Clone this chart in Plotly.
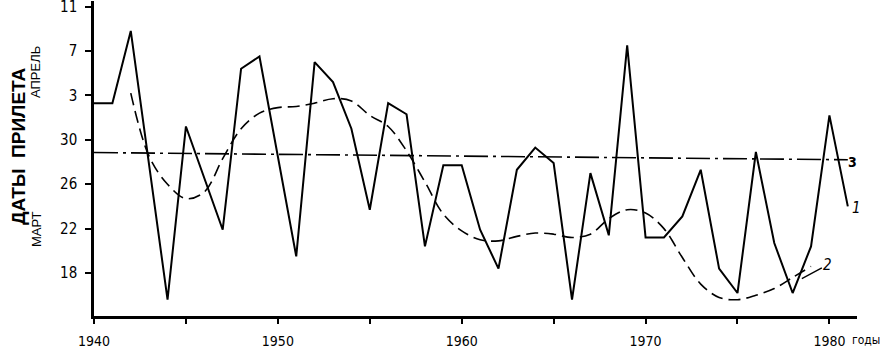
import plotly.graph_objects as go

# Day numbers: March days as-is, April days = 31 + day
years1 = list(range(1940, 1982))
arrival = [33.3, 33.3, 39.8, 27.7, 15.6, 31.2, 26.6, 21.9, 36.4, 37.5,
           28.5, 19.5, 37.0, 35.2, 31.0, 23.7, 33.3, 32.3, 20.4, 27.7,
           27.7, 21.9, 18.4, 27.3, 29.3, 27.9, 15.6, 27.0, 21.4, 38.5,
           21.2, 21.2, 23.1, 27.3, 18.4, 16.2, 28.9, 20.7, 16.2, 20.4,
           32.2, 24.0]

years2 = list(range(1942, 1980))
smooth = [34.2, 28.5, 26.0, 24.7, 25.3, 28.3, 31.0, 32.4, 32.9, 33.0,
          33.3, 33.7, 33.5, 32.2, 31.2, 29.0, 26.2, 23.3, 21.8, 21.0,
          20.9, 21.3, 21.6, 21.5, 21.2, 21.5, 22.9, 23.7, 23.4, 22.0,
          19.4, 17.0, 15.8, 15.6, 16.0, 16.6, 17.6, 18.6]

years3 = [1940, 1981]
trend = [28.85, 28.2]

ytick_vals = [18, 22, 26, 30, 34, 38, 42]
ytick_text = ["18", "22", "26", "30", "3", "7", "11"]
xtick_vals = list(range(1940, 1985, 5))
xtick_text = ["1940", "", "1950", "", "1960", "", "1970", "", "1980"]

W, H = 883, 355
ML, MR, MT, MB = 94, 26, 1, 39
PW, PH = W - ML - MR, H - MT - MB

def px(x):
    return (x - ML) / PW

def py(y):
    return 1 - (y - MT) / PH

NARROW = "Liberation Sans Narrow, DejaVu Sans Condensed, Arial Narrow, sans-serif"

fig = go.Figure()
fig.add_trace(go.Scatter(x=years1, y=arrival, mode="lines",
                         line=dict(color="black", width=2), hoverinfo="skip"))
fig.add_trace(go.Scatter(x=years2, y=smooth, mode="lines",
                         line=dict(color="black", width=1.6, dash="12px,6px", shape="spline", smoothing=1.0),
                         hoverinfo="skip"))
fig.add_trace(go.Scatter(x=years3, y=trend, mode="lines",
                         line=dict(color="black", width=1.6, dash="24px,5px,3px,5px"),
                         hoverinfo="skip"))

fig.update_layout(
    width=W, height=H, showlegend=False,
    margin=dict(l=ML, r=MR, t=MT, b=MB),
    plot_bgcolor="white", paper_bgcolor="white",
    xaxis=dict(range=[1940, 1981.5], tickvals=xtick_vals, ticktext=xtick_text,
               ticks="outside", ticklen=5, tickwidth=1.5, tickcolor="black",
               showline=True, linecolor="black", linewidth=2.5,
               showgrid=False, zeroline=False, ticklabelstandoff=5,
               automargin=False, ticklabeloverflow="allow",
               tickfont=dict(family=NARROW, size=14, color="black")),
    yaxis=dict(range=[14.13, 42.5], tickvals=ytick_vals, ticktext=ytick_text,
               ticks="outside", ticklen=6, tickwidth=1.5, tickcolor="black",
               showline=True, linecolor="black", linewidth=2.5,
               showgrid=False, zeroline=False, ticklabelstandoff=5,
               automargin=False, ticklabeloverflow="allow",
               tickfont=dict(family=NARROW, size=15, color="black")),
)

def label(text, x, y, size, family=NARROW, angle=0):
    return dict(text=text, xref="paper", yref="paper", x=px(x), y=py(y),
                xanchor="center", yanchor="middle", textangle=angle,
                showarrow=False, font=dict(family=family, size=size, color="black"))

SANS = "Liberation Sans, Arial, sans-serif"
ann = [
    label("<b>ДАТЫ  ПРИЛЕТА</b>", 18, 147, 19, SANS, -90),
    label("АПРЕЛЬ", 36, 72, 13, SANS, -90),
    label("МАРТ", 36, 229, 13, SANS, -90),
    label("годы", 866, 340, 12),
    label("<b>3</b>", 852, 162, 14),
    label("<i>1</i>", 856, 208, 15),
    dict(text="<i>2</i>", x=1978.5, y=17.5, xref="x", yref="y",
         showarrow=True, arrowhead=0, arrowwidth=1.3, arrowcolor="black",
         ax=26, ay=-14, standoff=0,
         font=dict(family=NARROW, size=15, color="black")),
]
fig.update_layout(annotations=ann)

fig.write_html("out.html", config={"displayModeBar": False},
               post_script="document.body.style.margin='0';document.body.style.overflow='hidden';")
